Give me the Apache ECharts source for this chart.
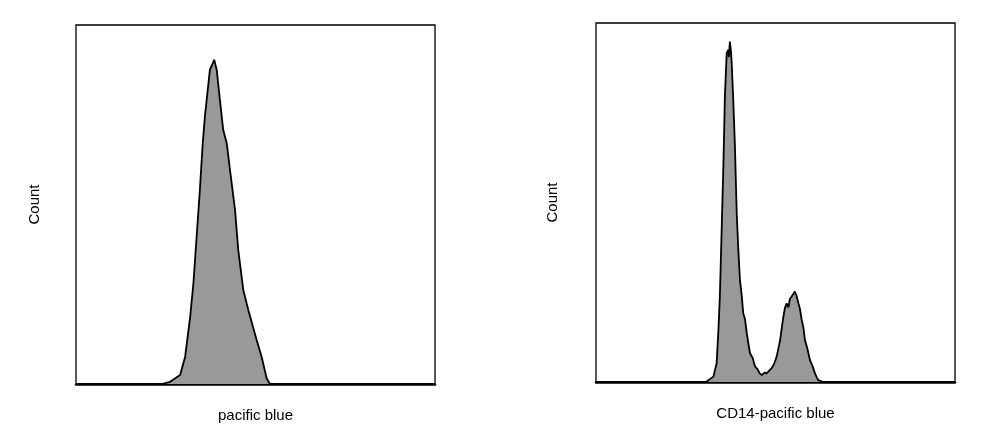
<!DOCTYPE html>
<html>
<head>
<meta charset="utf-8">
<script src="https://cdn.jsdelivr.net/npm/echarts@6/dist/echarts.min.js"></script>
<style>
  html, body { margin: 0; padding: 0; background: #fff; }
  #chart { width: 999px; height: 447px; }
</style>
</head>
<body>
<div id="chart"></div>
<script>
// Histogram outlines, x = fluorescence channel (0-100), y = relative count (0-100)

// Left panel: pacific blue
var leftX = [0, 23.9, 26.2, 29.0, 30.4, 31.8, 32.7, 33.6, 34.5, 35.3, 35.9, 36.9, 37.3, 38.5,
             39.2, 40.1, 41.0, 42.0, 42.9, 44.3, 45.2, 46.6, 48.0, 50.3, 51.7, 53.1, 54.0, 100];
var leftY = [0, 0, 0.6, 2.5, 7.6, 18.7, 28.0, 41.0, 54.0, 67.0, 74.5, 83.8, 87.5, 90.3,
             87.5, 79.0, 70.8, 67.0, 59.6, 48.5, 37.3, 26.2, 20.6, 12.3, 7.6, 1.6, 0, 0];

// Right panel: CD14-pacific blue
var rightX = [0, 30.6, 31.3, 32.7, 33.6, 34.1, 34.5, 35.0, 35.5, 35.9, 36.4, 36.8, 37.0, 37.3, 37.6,
              37.8, 38.2, 38.7, 39.2, 39.6, 40.1, 40.6, 41.0, 41.5, 42.0, 42.4, 42.9, 43.6,
              44.3, 45.0, 45.6, 46.2, 46.9, 47.5, 48.2, 48.9, 49.6, 50.3, 50.8, 51.3, 51.8,
              52.2, 52.6, 53.1, 53.6, 54.0, 54.5, 55.0, 55.4, 55.9, 56.4, 56.8, 57.3, 57.8,
              58.2, 58.9, 59.6, 60.3, 61.0, 61.5, 61.9, 63.3, 100];
var rightY = [0, 0, 0.5, 1.5, 5.2, 14.5, 23.8, 42.3, 60.9, 79.5, 91.6, 92.5, 90.5, 94.8, 92.0,
              88.8, 79.5, 65.6, 47.0, 37.7, 28.4, 24.0, 19.2, 17.5, 13.6, 11.0, 8.0, 6.8,
              4.3, 3.6, 2.4, 1.9, 2.6, 2.4, 3.1, 3.8, 5.0, 7.0, 9.3, 11.7, 15.5,
              18.2, 20.5, 21.9, 20.8, 23.1, 23.8, 24.6, 25.2, 23.9, 21.9, 20.4, 17.3, 15.0,
              11.7, 9.2, 6.1, 4.5, 2.4, 1.3, 0.5, 0, 0];

var leftXName = 'pacific blue';
var rightXName = 'CD14-pacific blue';
var yName = 'Count';

function zip(xs, ys) {
    return xs.map(function (x, i) { return [x, ys[i]]; });
}

var chart = echarts.init(document.getElementById('chart'));

var textFont = {
    fontFamily: 'Liberation Sans, Arial, sans-serif',
    fontSize: 15,
    color: '#000'
};

function xAxisFor(idx, name) {
    return {
        type: 'value',
        gridIndex: idx,
        min: 0,
        max: 100,
        name: name,
        nameLocation: 'middle',
        nameGap: 24,
        nameTextStyle: textFont,
        axisLine: { show: true, lineStyle: { color: '#000', width: 2.5 } },
        axisTick: { show: false },
        axisLabel: { show: false },
        splitLine: { show: false }
    };
}

function yAxisFor(idx, gap) {
    return {
        type: 'value',
        gridIndex: idx,
        min: 0,
        max: 100,
        name: yName,
        nameLocation: 'middle',
        nameRotate: 90,
        nameGap: gap,
        nameTextStyle: textFont,
        axisLine: { show: false },
        axisTick: { show: false },
        axisLabel: { show: false },
        splitLine: { show: false }
    };
}

function histSeries(idx, data) {
    return {
        type: 'line',
        xAxisIndex: idx,
        yAxisIndex: idx,
        data: data,
        symbol: 'none',
        smooth: false,
        silent: true,
        lineStyle: { color: '#000', width: 1.8 },
        areaStyle: { color: '#999999', opacity: 1 }
    };
}

chart.setOption({
    animation: false,
    backgroundColor: '#fff',
    grid: [
        { left: 76, top: 25, width: 359, height: 359, show: true, borderColor: '#000', borderWidth: 1.3, backgroundColor: 'transparent' },
        { left: 596, top: 23, width: 359, height: 359, show: true, borderColor: '#000', borderWidth: 1.3, backgroundColor: 'transparent' }
    ],
    xAxis: [xAxisFor(0, leftXName), xAxisFor(1, rightXName)],
    yAxis: [yAxisFor(0, 34), yAxisFor(1, 36)],
    series: [
        histSeries(0, zip(leftX, leftY)),
        histSeries(1, zip(rightX, rightY))
    ]
});
</script>
</body>
</html>
